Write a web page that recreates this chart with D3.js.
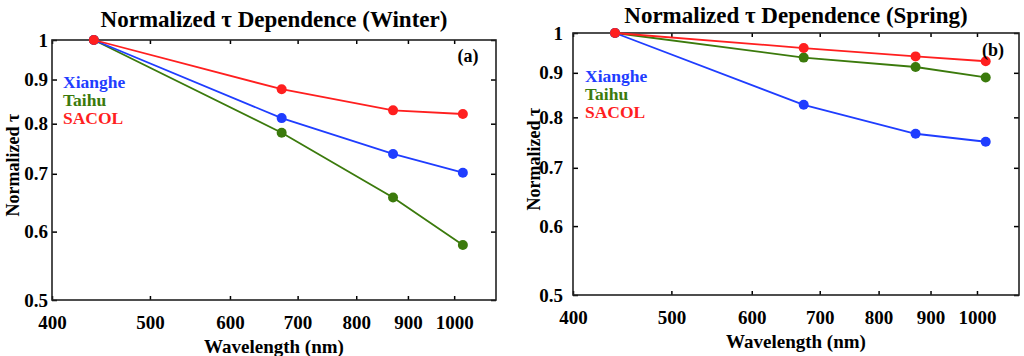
<!DOCTYPE html>
<html lang="en">
<head>
<meta charset="UTF-8">
<title>Normalized tau Dependence</title>
<script src="https://d3js.org/d3.v7.min.js"></script>
<style>
  body { margin: 0; background: #fff; overflow: hidden; }
  text { font-family: 'Liberation Serif', 'Times New Roman', serif; font-weight: bold; fill: #000; }
</style>
</head>
<body>
<script>
  // data
  const wavelengths = [440, 675, 870, 1020];
  const siteNames = ["Xianghe", "Taihu", "SACOL"];
  const siteColors = ["#1f3dff", "#3b7a0c", "#ff1f1f"];

  const winterXianghe = [1, 0.812, 0.738, 0.702];
  const winterTaihu   = [1, 0.781, 0.657, 0.579];
  const winterSacol   = [1, 0.877, 0.829, 0.821];

  const springXianghe = [1, 0.827, 0.766, 0.750];
  const springTaihu   = [1, 0.937, 0.914, 0.889];
  const springSacol   = [1, 0.961, 0.940, 0.928];

  const xTicks = [400, 500, 600, 700, 800, 900, 1000];
  const yTicks = [0.5, 0.6, 0.7, 0.8, 0.9, 1];

  const width = 1024, height = 356;
  const serif = "'Liberation Serif', 'Times New Roman', serif";

  const svg = d3.select("body").append("svg")
      .attr("width", width)
      .attr("height", height);

  const panels = [
    { title: "Winter", tag: "(a)", series: [winterXianghe, winterTaihu, winterSacol],
      left: 52, right: 496, top: 40, bottom: 300, titleY: 27, yLabelGap: 4, yTitleX: 13,
      legendX: 63, legendY: 88, tagX: 468, tagY: 62 },
    { title: "Spring", tag: "(b)", series: [springXianghe, springTaihu, springSacol],
      left: 573, right: 1019, top: 33, bottom: 295, titleY: 23, yLabelGap: 10, yTitleX: 534,
      legendX: 585, legendY: 82, tagX: 993, tagY: 56 }
  ];

  panels.forEach(drawPanel);

  function drawPanel(p) {
    const x = d3.scaleLog().domain([400, 1100]).range([p.left, p.right]);
    const y = d3.scaleLog().domain([0.5, 1]).range([p.bottom, p.top]);
    const g = svg.append("g");
    const cx = (p.left + p.right) / 2;

    // title
    g.append("text")
      .attr("x", cx)
      .attr("y", p.titleY)
      .attr("text-anchor", "middle")
      .style("font-size", "23px")
      .text("Normalized \u03C4 Dependence (" + p.title + ")");

    // ticks pointing inward on all four sides
    const fmtY = d => (d === 1 ? "1" : d3.format(".1f")(d));
    const styleLabels = a => a.attr("font-family", serif).attr("font-size", 19)
      .selectAll("text").style("font-size", "19px").style("font-family", serif).style("font-weight", "bold");
    g.append("g")
      .attr("transform", `translate(0,${p.bottom})`)
      .call(d3.axisBottom(x).tickValues(xTicks).tickFormat(d3.format("d")).tickSizeInner(-4).tickSizeOuter(0).tickPadding(16))
      .call(a => a.select(".domain").remove())
      .call(styleLabels);
    g.append("g")
      .attr("transform", `translate(0,${p.top})`)
      .call(d3.axisTop(x).tickValues(xTicks).tickFormat("").tickSizeInner(-4).tickSizeOuter(0))
      .call(a => a.select(".domain").remove());
    g.append("g")
      .attr("transform", `translate(${p.left},0)`)
      .call(d3.axisLeft(y).tickValues(yTicks).tickFormat(fmtY).tickSizeInner(-5).tickSizeOuter(0).tickPadding(p.yLabelGap))
      .call(a => a.select(".domain").remove())
      .call(styleLabels);
    g.append("g")
      .attr("transform", `translate(${p.right},0)`)
      .call(d3.axisRight(y).tickValues(yTicks).tickFormat("").tickSizeInner(-5).tickSizeOuter(0))
      .call(a => a.select(".domain").remove());
    g.selectAll(".tick line").attr("stroke", "#000").attr("stroke-width", 1.5);

    // frame
    g.append("rect")
      .attr("x", p.left).attr("y", p.top)
      .attr("width", p.right - p.left).attr("height", p.bottom - p.top)
      .attr("fill", "none").attr("stroke", "#222").attr("stroke-width", 1.6);

    // axis titles
    g.append("text")
      .attr("x", cx)
      .attr("y", p.bottom + 53)
      .attr("text-anchor", "middle")
      .style("font-size", "19px")
      .text("Wavelength (nm)");
    g.append("text")
      .attr("transform", `translate(${p.yTitleX},${(p.top + p.bottom) / 2 - 5}) rotate(-90)`)
      .attr("text-anchor", "middle")
      .attr("dy", "0.35em")
      .style("font-size", "18px")
      .text("Normalized \u03C4");

    // series, drawn green, blue, red so red sits on top
    const line = d3.line().x((d, i) => x(wavelengths[i])).y(d => y(d));
    [1, 0, 2].forEach(k => {
      const vals = p.series[k];
      g.append("path")
        .datum(vals)
        .attr("d", line)
        .attr("fill", "none")
        .attr("stroke", siteColors[k])
        .attr("stroke-width", 1.8);
      g.selectAll(null)
        .data(vals)
        .enter().append("circle")
        .attr("cx", (d, i) => x(wavelengths[i]))
        .attr("cy", d => y(d))
        .attr("r", 5)
        .attr("fill", siteColors[k]);
    });

    // legend
    siteNames.forEach((name, k) => {
      g.append("text")
        .attr("x", p.legendX)
        .attr("y", p.legendY + k * 18)
        .style("font-size", "17.5px")
        .style("fill", siteColors[k])
        .text(name);
    });

    g.append("text")
      .attr("x", p.tagX)
      .attr("y", p.tagY)
      .attr("text-anchor", "middle")
      .style("font-size", "18px")
      .text(p.tag);
  }
</script>
</body>
</html>
